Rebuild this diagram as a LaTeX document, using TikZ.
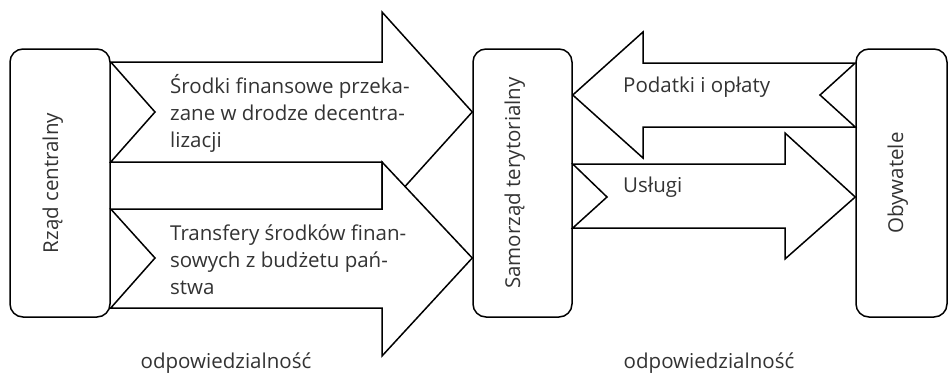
\documentclass[tikz,border=0pt]{standalone}
\usepackage{fontspec}
\setmainfont{Open Sans}
\definecolor{txt}{HTML}{333333}
\begin{document}
\begin{tikzpicture}[x=1pt,y=-1pt,
  box/.style={draw=black, line width=1.5pt, rounded corners=13pt, fill=white, inner sep=0pt},
  blockarrow/.style={draw=black, line width=1.5pt, fill=white, line join=miter},
  lbl/.style={text=txt, font=\fontsize{20.5}{27}\selectfont, inner sep=0pt},
]
\useasboundingbox (0,0) rectangle (948,375);
% boxes
\node[box, minimum width=100pt, minimum height=268pt] (rc) at (60,183) {};
\node[box, minimum width=99pt, minimum height=268pt] (st) at (522.5,183) {};
\node[box, minimum width=91pt, minimum height=268pt] (ob) at (901.5,183) {};
% block arrows
\draw[blockarrow] (rc.east |- 0,62) -- (382,62) -- (382,12) -- (st.west |- 0,112) -- (382,212) -- (382,162) -- (rc.east |- 0,162) -- (155,112) -- cycle;
\draw[blockarrow] (rc.east |- 0,209) -- (382,209) -- (382,162) -- (st.west |- 0,258) -- (382,356) -- (382,308) -- (rc.east |- 0,308) -- (155,258) -- cycle;
\draw[blockarrow] (ob.west |- 0,63) -- (643,63) -- (643,32) -- (st.east |- 0,95) -- (643,158) -- (643,127) -- (ob.west |- 0,127) -- (820,95) -- cycle;
\draw[blockarrow] (st.east |- 0,164) -- (785,164) -- (785,133) -- (ob.west |- 0,197) -- (785,259) -- (785,228) -- (st.east |- 0,228) -- (607,197) -- cycle;
% box labels
\node[lbl, rotate=90, anchor=base] (rcl) at (58,183) {Rząd centralny};
\node[lbl, rotate=90, anchor=base] (stl) at (520,183) {Samorząd terytorialny};
\node[lbl, rotate=90, anchor=base] (obl) at (903,183) {Obywatele};
% arrow labels (base = last line)
\node[lbl, anchor=base west, align=left] (a1) at (170,147) {Środki finansowe przeka-\\zane w drodze decentra-\\lizacji};
\node[lbl, anchor=base west, align=left] (a2) at (170,294) {Transfery środków finan-\\sowych z budżetu pań-\\stwa};
\node[lbl, anchor=base west] (a3) at (623,92) {Podatki i opłaty};
\node[lbl, anchor=base west] (a4) at (623,192) {Usługi};
% bottom labels
\node[lbl, anchor=base] (r1) at (226,368) {odpowiedzialność};
\node[lbl, anchor=base] (r2) at (709,368) {odpowiedzialność};
\end{tikzpicture}
\end{document}
